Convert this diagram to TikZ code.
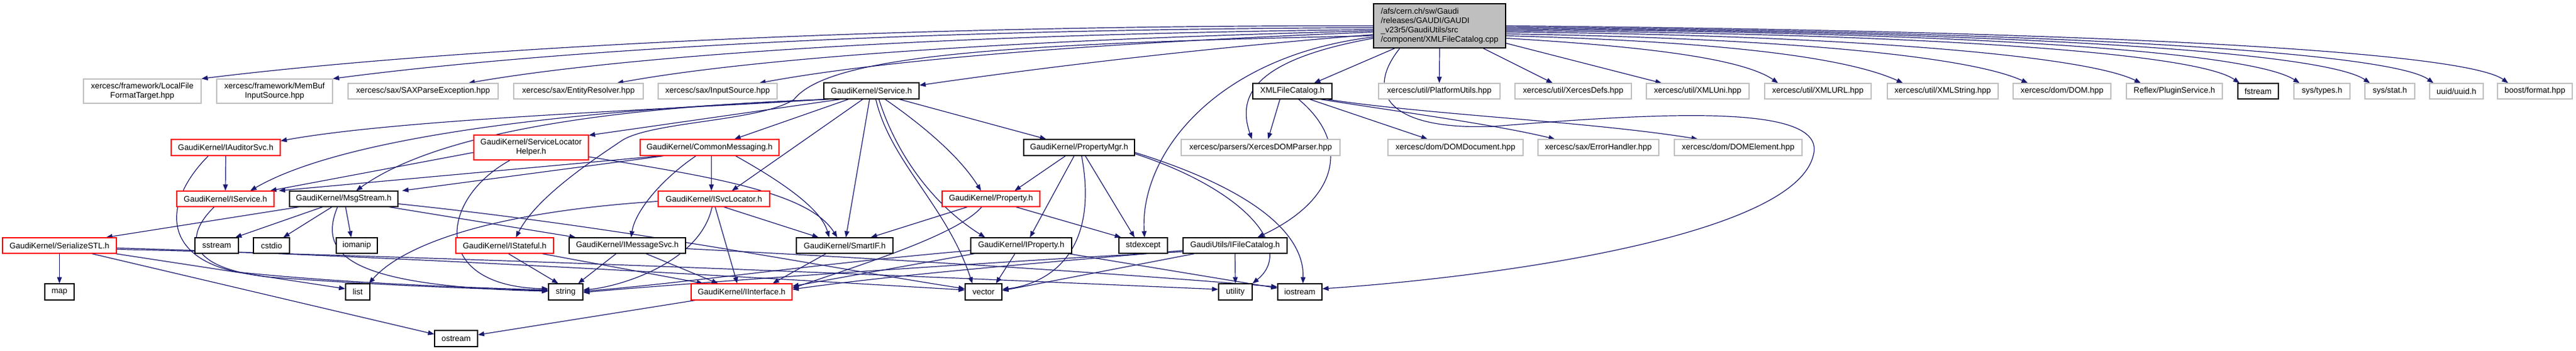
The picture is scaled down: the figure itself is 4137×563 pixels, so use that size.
\documentclass[tikz,border=0pt]{standalone}
\usepackage{fontspec}
\setmainfont{Liberation Sans}
\usetikzlibrary{arrows.meta,calc,backgrounds}
\definecolor{edgec}{HTML}{191970}
\definecolor{greyb}{HTML}{BFBFBF}
\tikzset{
 bx/.style={draw, line width=0.6pt, inner sep=0pt, align=center, font=\fontsize{6.5}{7.5}\selectfont, fill=white},
 nb/.style={bx, draw=black},
 rb/.style={bx, draw=red},
 gb/.style={bx, draw=greyb},
 rootb/.style={bx, draw=black, fill=greyb, align=left},
 ln/.style={draw=edgec, line width=0.6pt, -{Triangle[length=5pt,width=3.8pt]}},
}
\newcommand\nd[7]{\node[#6,minimum width=#4*0.5pt,minimum height=#5*0.5pt] (#1) at (#2,#3) {#7};}
\begin{document}
\begin{tikzpicture}[x=0.5pt,y=-0.5pt]
\useasboundingbox (0,0) rectangle (4137,563);
% root
\nd{R}{2312}{41.5}{212}{71}{rootb}{/afs/cern.ch/sw/Gaudi\\/releases/GAUDI/GAUDI\\\_v23r5/GaudiUtils/src\\/component/XMLFileCatalog.cpp}
% row 2
\nd{LF}{228.5}{146.5}{189}{39}{gb}{xercesc/framework/LocalFile\\FormatTarget.hpp}
\nd{MB}{441}{146.5}{186}{39}{gb}{xercesc/framework/MemBuf\\InputSource.hpp}
\nd{SAX}{679.5}{146.5}{241}{25}{gb}{xercesc/sax/SAXParseException.hpp}
\nd{ER}{929}{146.5}{208}{25}{gb}{xercesc/sax/EntityResolver.hpp}
\nd{ISrc}{1152.5}{146.5}{191}{25}{gb}{xercesc/sax/InputSource.hpp}
\nd{S}{1399.5}{146}{153}{26}{nb}{GaudiKernel/Service.h}
\nd{XF}{2075.5}{146.5}{127}{25}{nb}{XMLFileCatalog.h}
\nd{PU}{2311.5}{146.5}{195}{25}{gb}{xercesc/util/PlatformUtils.hpp}
\nd{XD}{2526.5}{146.5}{187}{25}{gb}{xercesc/util/XercesDefs.hpp}
\nd{XU}{2726.5}{146.5}{165}{25}{gb}{xercesc/util/XMLUni.hpp}
\nd{URL}{2919.5}{146.5}{171}{25}{gb}{xercesc/util/XMLURL.hpp}
\nd{XS}{3120}{146.5}{178}{25}{gb}{xercesc/util/XMLString.hpp}
\nd{DOM}{3311.5}{146.5}{157}{25}{gb}{xercesc/dom/DOM.hpp}
\nd{RF}{3492}{146.5}{154}{25}{gb}{Reflex/PluginService.h}
\nd{FS}{3626.5}{146.5}{65}{25}{nb}{fstream}
\nd{ST}{3729}{146.5}{90}{25}{gb}{sys/types.h}
\nd{STAT}{3838}{146.5}{80}{25}{gb}{sys/stat.h}
\nd{UU}{3945}{146.5}{86}{25}{gb}{uuid/uuid.h}
\nd{BF}{4071}{146.5}{120}{25}{gb}{boost/format.hpp}
% row 3
\nd{AU}{362.5}{237}{175}{26}{rb}{GaudiKernel/IAuditorSvc.h}
\nd{SLH}{853}{237}{184}{40}{rb}{GaudiKernel/ServiceLocator\\Helper.h}
\nd{CM}{1139.5}{237}{223}{26}{rb}{GaudiKernel/CommonMessaging.h}
\nd{PM}{1733}{237}{178}{26}{nb}{GaudiKernel/PropertyMgr.h}
\nd{XDP}{2024.5}{237}{255}{26}{gb}{xercesc/parsers/XercesDOMParser.hpp}
\nd{DD}{2337.5}{237}{217}{26}{gb}{xercesc/dom/DOMDocument.hpp}
\nd{EH}{2567}{237}{194}{26}{gb}{xercesc/sax/ErrorHandler.hpp}
\nd{DE}{2791.5}{237}{205}{26}{gb}{xercesc/dom/DOMElement.hpp}
% row 4
\nd{ISV}{362}{319.5}{156}{25}{rb}{GaudiKernel/IService.h}
\nd{MS}{552}{319.5}{174}{25}{nb}{GaudiKernel/MsgStream.h}
\nd{SL}{1146.5}{319.5}{179}{25}{rb}{GaudiKernel/ISvcLocator.h}
\nd{P}{1591.5}{319.5}{157}{25}{rb}{GaudiKernel/Property.h}
% row 5
\nd{SER}{95.5}{394.5}{183}{25}{rb}{GaudiKernel/SerializeSTL.h}
\nd{SSTR}{348}{394.5}{70}{25}{nb}{sstream}
\nd{CS}{436}{394.5}{58}{25}{nb}{cstdio}
\nd{IOM}{573}{394.5}{66}{25}{nb}{iomanip}
\nd{IST}{810.5}{394.5}{157}{25}{rb}{GaudiKernel/IStateful.h}
\nd{IM}{1007.5}{394.5}{187}{25}{nb}{GaudiKernel/IMessageSvc.h}
\nd{SI}{1356.5}{394.5}{155}{25}{nb}{GaudiKernel/SmartIF.h}
\nd{IP}{1640}{394.5}{162}{25}{nb}{GaudiKernel/IProperty.h}
\nd{SE}{1836}{394.5}{78}{25}{nb}{stdexcept}
\nd{IF}{1983.5}{394.5}{167}{25}{nb}{GaudiUtils/IFileCatalog.h}
% row 6
\nd{MAP}{95.5}{469}{47}{26}{nb}{map}
\nd{LIST}{574.5}{469}{39}{26}{nb}{list}
\nd{STR}{908.5}{469}{55}{26}{nb}{string}
\nd{II}{1191}{469}{162}{26}{rb}{GaudiKernel/IInterface.h}
\nd{VEC}{1579.5}{469}{59}{26}{nb}{vector}
\nd{UT}{1984}{469}{54}{26}{nb}{utility}
\nd{IOS}{2087.5}{469}{71}{26}{nb}{iostream}
% row 7
\nd{OST}{732.5}{544}{69}{26}{nb}{ostream}

\begin{scope}[on background layer]
% ---- root edges
\draw[ln] (R.west) .. controls (1400,40) and (700,80) .. (LF.north east);
\draw[ln] ($(R.west)+(0,3)$) .. controls (1400,47) and (850,85) .. (MB.north east);
\draw[ln] ($(R.west)+(0,6)$) .. controls (1500,55) and (1000,90) .. ($(SAX.north)+(73,0)$);
\draw[ln] ($(R.west)+(0,8)$) .. controls (1600,65) and (1200,95) .. ($(ER.north)+(62,0)$);
\draw[ln] ($(R.west)+(0,10)$) .. controls (1700,72) and (1400,100) .. ($(ISrc.north)+(67,0)$);
\draw[ln] ($(R.west)+(0,14)$) .. controls (1900,80) and (1650,112) .. ($(S.east)+(0,-9)$);
\draw[ln] ($(R.west)+(0,16)$) .. controls (1600,70) and (1330,90) .. (1275,160) .. controls (1220,195) and (1050,195) .. (1000,225) .. controls (940,265) and (860,320) .. ($(IST.north)+(18,0)$);
\draw[ln] ($(R.south)+(-72,0)$) -- ($(XF.north)+(35,0)$);
\draw[ln] ($(R.west)+(0,20)$) .. controls (2020,95) and (1985,150) .. ($(XDP.north)+(-14,0)$);
\draw[ln] (R.south) -- (PU.north);
\draw[ln] ($(R.south)+(70,0)$) -- ($(XD.north)+(-33,0)$);
\draw[ln] ($(R.east)+(0,28)$) -- ($(XU.north)+(-58,0)$);
\draw[ln] ($(R.east)+(0,20)$) .. controls (2650,75) and (2800,95) .. ($(URL.north)+(-64,0)$);
\draw[ln] ($(R.east)+(0,16)$) .. controls (2700,65) and (2950,85) .. ($(XS.north)+(-64,0)$);
\draw[ln] ($(R.east)+(0,13)$) .. controls (2800,60) and (3150,85) .. ($(DOM.north)+(-55,0)$);
\draw[ln] ($(R.east)+(0,10)$) .. controls (2900,55) and (3340,85) .. ($(RF.north)+(-54,0)$);
\draw[ln] ($(R.east)+(0,8)$) .. controls (3000,52) and (3520,80) .. ($(FS.north)+(-30,0)$);
\draw[ln] ($(R.east)+(0,6)$) .. controls (3100,50) and (3610,80) .. ($(ST.north)+(-36,0)$);
\draw[ln] ($(R.east)+(0,4)$) .. controls (3200,50) and (3730,82) .. ($(STAT.north)+(-32,0)$);
\draw[ln] ($(R.east)+(0,2)$) .. controls (3300,50) and (3840,84) .. ($(UU.north)+(-37,0)$);
\draw[ln] (R.east) .. controls (3400,50) and (3960,84) .. ($(BF.north)+(-43,0)$);
\draw[ln] ($(R.west)+(0,18)$) .. controls (1950,90) and (1830,250) .. ($(SE.north)+(2,0)$);
\draw[ln] ($(R.south)+(-64,0)$) .. controls (2190,150) and (2230,210) .. (2400,203) .. controls (2700,178) and (2935,170) .. (2912,250) .. controls (2880,380) and (2400,445) .. ($(IOS.east)+(0,-5)$);

% ---- XMLFileCatalog.h
\draw[ln] ($(XF.south)+(-20,0)$) -- ($(XDP.north)+(12,0)$);
\draw[ln] ($(XF.south)+(28,0)$) -- ($(DD.north)+(-45,0)$);
\draw[ln] ($(XF.south)+(45,0)$) .. controls (2250,180) and (2400,200) .. ($(EH.north)+(-70,0)$);
\draw[ln] ($(XF.south)+(55,0)$) .. controls (2300,185) and (2550,195) .. ($(DE.north)+(-65,0)$);
\draw[ln] ($(XF.south)+(10,0)$) .. controls (2170,230) and (2150,320) .. ($(IF.north)+(36,0)$);

% ---- Service.h
\draw[ln] ($(S.south)+(-75,0)$) .. controls (1100,175) and (650,190) .. ($(AU.north east)+(0,3)$);
\draw[ln] ($(S.south)+(-50,0)$) -- ($(SLH.north east)+(0,1)$);
\draw[ln] ($(S.south)+(-37,0)$) -- ($(CM.north)+(40,0)$);
\draw[ln] ($(S.south)+(-68,0)$) .. controls (950,175) and (560,215) .. ($(ISV.north)+(40,0)$);
\draw[ln] ($(S.south)+(-72,0)$) .. controls (1050,170) and (720,200) .. ($(MS.north)+(20,0)$);
\draw[ln] ($(S.south)+(-14,0)$) -- ($(SL.north)+(29,0)$);
\draw[ln] ($(S.south)+(-3,0)$) -- ($(SI.north)+(2,0)$);
\draw[ln] ($(S.south)+(7,0)$) .. controls (1430,260) and (1520,330) .. ($(VEC.north)+(-18,0)$);
\draw[ln] ($(S.south)+(12,0)$) .. controls (1440,250) and (1500,330) .. ($(IP.north)+(-58,0)$);
\draw[ln] ($(S.south)+(22,0)$) .. controls (1480,200) and (1540,250) .. ($(P.north)+(-16,0)$);
\draw[ln] ($(S.south)+(45,0)$) -- ($(PM.north)+(-53,0)$);

% ---- IAuditorSvc
\draw[ln] (AU.south) -- (ISV.north);
\draw[ln] ($(AU.south)+(-28,0)$) .. controls (265,320) and (255,410) .. (380,437) .. controls (550,455) and (750,462) .. ($(STR.west)+(0,-3)$);

% ---- ServiceLocatorHelper
\draw[ln] ($(SLH.west)+(0,8)$) -- ($(ISV.north)+(72,0)$);
\draw[ln] ($(SLH.south)+(-34,0)$) .. controls (705,320) and (690,460) .. ($(STR.west)+(0,-5)$);
\draw[ln] ($(SLH.east)+(0,15)$) .. controls (1150,285) and (1300,310) .. ($(SI.north)+(-12,0)$);

% ---- CommonMessaging
\draw[ln] ($(CM.south)+(-80,0)$) -- ($(ISV.north)+(86,0)$);
\draw[ln] ($(CM.south)+(-74,0)$) -- ($(MS.north)+(94,0)$);
\draw[ln] ($(CM.south)+(3,0)$) -- ($(SL.north)+(-4,0)$);
\draw[ln] ($(CM.south)+(-22,0)$) .. controls (1060,290) and (1020,340) .. ($(IM.north)+(6,0)$);
\draw[ln] ($(CM.south)+(42,0)$) .. controls (1270,300) and (1320,340) .. ($(SI.north)+(-25,0)$);

% ---- IService
\draw[ln] ($(ISV.south)+(-18,0)$) .. controls (295,380) and (300,430) .. (430,445) .. controls (600,458) and (760,464) .. ($(STR.west)+(0,-2)$);

% ---- MsgStream
\draw[ln] ($(MS.south)+(-72,0)$) -- ($(SER.north)+(75,0)$);
\draw[ln] ($(MS.south)+(-34,0)$) -- ($(SSTR.north)+(30,0)$);
\draw[ln] ($(MS.south)+(-19,0)$) -- ($(CS.north)+(19,0)$);
\draw[ln] ($(MS.south)+(3,0)$) -- ($(IOM.north)+(-9,0)$);
\draw[ln] ($(MS.south)+(-10,0)$) .. controls (510,410) and (560,460) .. ($(STR.west)+(0,-1)$);
\draw[ln] ($(MS.south)+(73,0)$) -- ($(IM.north)+(-83,0)$);
\draw[ln] ($(MS.east)+(0,8)$) .. controls (1000,365) and (1300,425) .. ($(VEC.west)+(0,-5)$);

% ---- SerializeSTL
\draw[ln] (SER.south) -- (MAP.north);
\draw[ln] ($(SER.south)+(90,0)$) -- ($(LIST.west)+(0,-5)$);
\draw[ln] ($(SER.south)+(52,0)$) -- ($(OST.west)+(0,-7)$);
\draw[ln] ($(SER.east)+(0,4)$) .. controls (600,410) and (1200,445) .. ($(VEC.west)+(0,-3)$);
\draw[ln] ($(SER.east)+(0,6)$) .. controls (800,415) and (1500,445) .. ($(UT.west)+(0,-4)$);

% ---- ISvcLocator
\draw[ln] ($(SL.south)+(16,0)$) -- ($(SI.north)+(-42,0)$);
\draw[ln] ($(SL.south)+(2,0)$) -- ($(II.north)+(-7,0)$);
\draw[ln] ($(SL.south)+(-3,0)$) .. controls (1125,420) and (1000,460) .. ($(STR.east)+(0,-3)$);
\draw[ln] ($(SL.west)+(0,4)$) .. controls (800,340) and (650,390) .. ($(LIST.north)+(18,0)$);

% ---- Property.h
\draw[ln] ($(P.south)+(-38,0)$) -- ($(SI.north)+(42,0)$);
\draw[ln] ($(P.south)+(-15,0)$) .. controls (1540,375) and (1400,420) .. ($(II.east)+(0,-6)$);
\draw[ln] ($(P.south)+(40,0)$) -- ($(SE.north west)+(4,0)$);

% ---- PropertyMgr
\draw[ln] ($(PM.south)+(-22,0)$) -- ($(P.north)+(38,0)$);
\draw[ln] ($(PM.south)+(-8,0)$) -- ($(IP.north)+(14,0)$);
\draw[ln] ($(PM.south)+(4,0)$) .. controls (1765,400) and (1690,455) .. ($(VEC.east)+(0,-4)$);
\draw[ln] ($(PM.south)+(10,0)$) -- ($(SE.north)+(-14,0)$);
\draw[ln] ($(PM.east)+(0,8)$) .. controls (2000,300) and (2095,370) .. ($(IOS.north)+(5,0)$);
\draw[ln] ($(PM.east)+(0,10)$) .. controls (2000,305) and (2080,400) .. (UT.north east);

% ---- IStateful
\draw[ln] ($(IST.south)+(6,0)$) -- ($(STR.north)+(-12,0)$);
\draw[ln] ($(IST.south)+(60,0)$) -- ($(II.north)+(-62,0)$);

% ---- IMessageSvc
\draw[ln] ($(IM.south)+(-18,0)$) -- ($(STR.north)+(20,0)$);
\draw[ln] ($(IM.south)+(30,0)$) -- ($(II.north)+(-38,0)$);
\draw[ln] ($(IM.east)+(0,5)$) .. controls (1500,420) and (1800,440) .. ($(IOS.west)+(0,-8)$);

% ---- SmartIF
\draw[ln] ($(SI.south)+(-30,0)$) -- ($(II.north)+(50,0)$);

% ---- IProperty
\draw[ln] ($(IP.south)+(-10,0)$) -- ($(VEC.north)+(20,0)$);
\draw[ln] ($(IP.south)+(-75,0)$) -- ($(II.east)+(0,-9)$);
\draw[ln] ($(IP.west)+(0,8)$) .. controls (1300,425) and (1100,455) .. ($(STR.east)+(0,-1)$);
\draw[ln] ($(IP.south)+(76,0)$) -- ($(IOS.west)+(0,-6)$);

% ---- IFileCatalog
\draw[ln] (IF.south) -- (UT.north);
\draw[ln] ($(IF.south)+(-65,0)$) -- ($(VEC.east)+(0,-2)$);
\draw[ln] ($(IF.west)+(0,8)$) .. controls (1700,420) and (1450,440) .. ($(II.east)+(0,-4)$);
\draw[ln] ($(IF.west)+(0,10)$) .. controls (1600,420) and (1100,455) .. ($(STR.east)+(0,1)$);

% ---- IInterface
\draw[ln] ($(II.south)+(-75,0)$) -- ($(OST.east)+(0,-6)$);
\end{scope}
\end{tikzpicture}
\end{document}
